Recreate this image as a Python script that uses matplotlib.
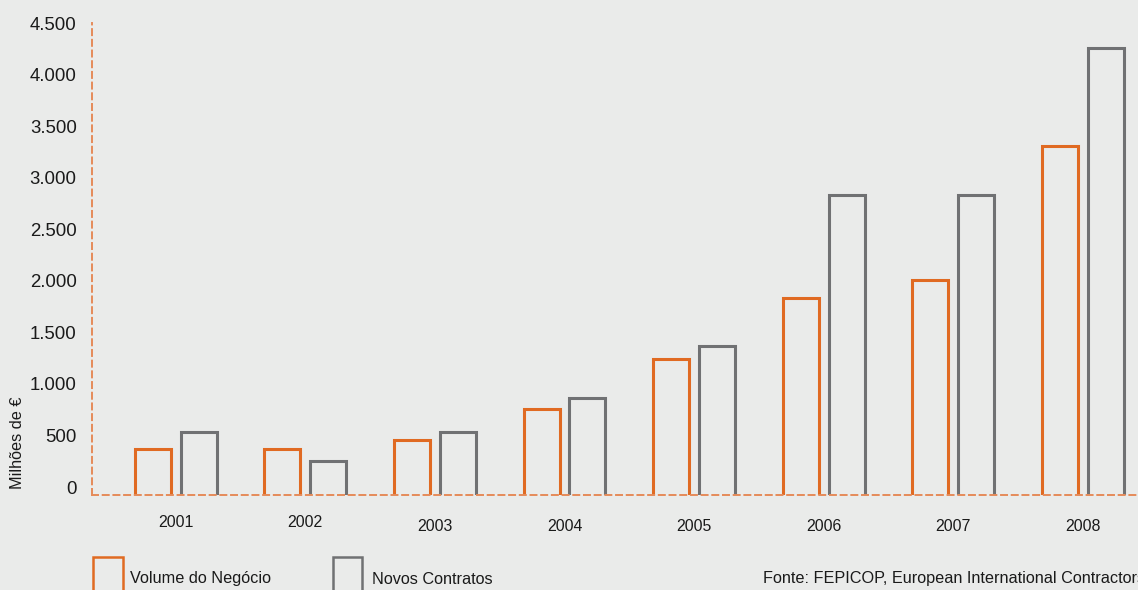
import numpy as np
import matplotlib.pyplot as plt
from matplotlib.patches import Rectangle
import matplotlib.transforms as mtransforms

plt.rcParams['font.family'] = ['Liberation Sans', 'DejaVu Sans']

# dados (milhões de €)
anos = ['2001', '2002', '2003', '2004', '2005', '2006', '2007', '2008']
volume_negocio = [368, 368, 455, 753, 1240, 1835, 2006, 3305]
novos_contratos = [530, 255, 530, 866, 1367, 2833, 2833, 4261]
y_ticks = [0, 500, 1000, 1500, 2000, 2500, 3000, 3500, 4000, 4500]
y_tick_labels = ['0', '500', '1.000', '1.500', '2.000', '2.500', '3.000', '3.500', '4.000', '4.500']

bg = '#EAEBEA'
laranja = '#E06A22'
cinza = '#707173'
tracejado = '#E58B5A'

fig = plt.figure(figsize=(11.38, 5.9), dpi=100, facecolor=bg)
ax = fig.add_axes([92 / 1138, 95 / 590, 1 - 92 / 1138, 472 / 590])
ax.set_facecolor(bg)

y_min = -77
base = y_min - 60  # barras começam abaixo do eixo (sem borda inferior)
x = np.arange(len(anos))
largura = 0.278
desloc = 0.177

vol = np.array(volume_negocio)
nov = np.array(novos_contratos)
ax.bar(x - desloc, vol - base, bottom=base, width=largura,
       facecolor='none', edgecolor=laranja, linewidth=2.2)
ax.bar(x + desloc, nov - base, bottom=base, width=largura,
       facecolor='none', edgecolor=cinza, linewidth=2.2)

ax.set_ylim(y_min, 4500)
ax.set_xlim(-0.646, 7.425)

# eixos tracejados
for s in ['top', 'right']:
    ax.spines[s].set_visible(False)
for s in ['left', 'bottom']:
    ax.spines[s].set_color(tracejado)
    ax.spines[s].set_linewidth(1.4)
    ax.spines[s].set_linestyle((0, (3.1, 2.4)))
    ax.spines[s].set_zorder(5)

ax.set_yticks(y_ticks)
ax.set_yticklabels(y_tick_labels, fontsize=13.4, color='#1a1a1a')
ax.set_xticks(x)
ax.set_xticklabels(anos, fontsize=11.4, color='#1a1a1a')
ax.tick_params(axis='y', length=0, pad=11)
ax.tick_params(axis='x', length=0, pad=17)

# pequenos desvios nos rótulos de 2001 e 2002, como no original
off = mtransforms.ScaledTranslation(0, 4 / 100, fig.dpi_scale_trans)
for lbl in ax.get_xticklabels()[:2]:
    lbl.set_transform(lbl.get_transform() + off)

fig.text(18 / 1138, 1 - 443 / 590, 'Milhões de €', rotation=90,
         ha='center', va='center', fontsize=11.7, color='#1a1a1a')

# legenda
fig.add_artist(Rectangle((93 / 1138, -5 / 590), 30 / 1138, 38 / 590,
                         transform=fig.transFigure, facecolor='none',
                         edgecolor=laranja, linewidth=1.8))
fig.text(130 / 1138, 1 - 579 / 590, 'Volume do Negócio', ha='left', va='center',
         fontsize=11.7, color='#1a1a1a')
fig.add_artist(Rectangle((333 / 1138, -5 / 590), 29 / 1138, 38 / 590,
                         transform=fig.transFigure, facecolor='none',
                         edgecolor=cinza, linewidth=1.8))
fig.text(372 / 1138, 1 - 579 / 590, 'Novos Contratos', ha='left', va='center',
         fontsize=11.7, color='#1a1a1a')
fig.text(763 / 1138, 1 - 579 / 590, 'Fonte: FEPICOP, European International Contractors',
         ha='left', va='center', fontsize=11.7, color='#1a1a1a')

plt.savefig('out.png', dpi=100, facecolor=bg)
